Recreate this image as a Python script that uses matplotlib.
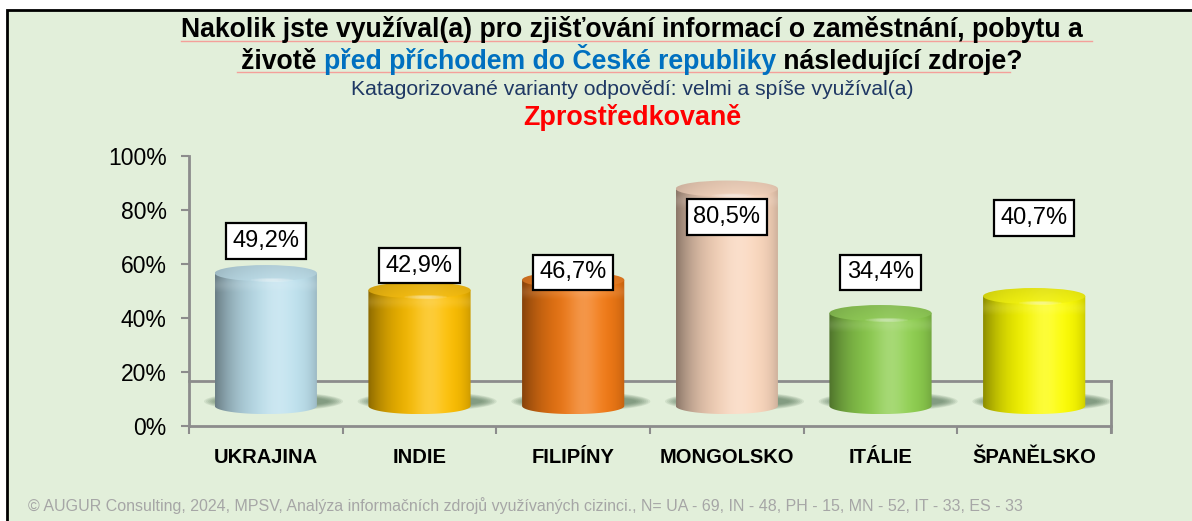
import numpy as np
import matplotlib.pyplot as plt
from matplotlib.patches import Ellipse, Rectangle, PathPatch
from matplotlib.path import Path
from matplotlib.colors import to_rgb
from matplotlib.lines import Line2D

plt.rcParams['font.family'] = ['Liberation Sans', 'DejaVu Sans']

# data
countries = ['UKRAJINA', 'INDIE', 'FILIPÍNY', 'MONGOLSKO', 'ITÁLIE', 'ŠPANĚLSKO']
values = [49.2, 42.9, 46.7, 80.5, 34.4, 40.7]
bar_colors = ['#bfe3f0', '#ffc000', '#f47a14', '#fcd8be', '#8fd14f', '#ffff00']
label_y = [68.4, 59.2, 56.8, 77.3, 56.8, 76.9]   # where the value boxes sit
y_ticks = [0, 20, 40, 60, 80, 100]

W, H = 1192, 521
fig = plt.figure(figsize=(W / 100, H / 100), dpi=100)
fig.patch.set_facecolor('white')

# green panel with black frame (right and bottom edges are cut off)
fig.patches.append(Rectangle((7 / W, -0.02), 1.0, 1 - 10 / H + 0.02, transform=fig.transFigure,
                             fc='#e2efda', ec='black', lw=2, zorder=-5))

ax = fig.add_axes([189 / W, (H - 425.7) / H, (1111 - 189) / W, (425.7 - 155.7) / H])
ax.set_facecolor('none')

axis_col = '#8c8c8c'
base_c = 7.3   # centre of the bottom ellipse
ry = 3.0       # half height of the ellipses
w = 0.665
hw = w / 2


def shade(base, t, contrast=1.0):
    light = np.exp(-((t - 0.6) / 0.16) ** 2) * 0.22 * contrast
    dark = ((1 - t) ** 4 * 0.45 + t ** 10 * 0.2) * contrast
    c = base[None, :] * (1 - dark[:, None])
    c = c + (1 - c) * light[:, None]
    return np.clip(c, 0, 1)


t = np.linspace(0, 1, 200)
for i, v in enumerate(values):
    cx = i
    top_c = base_c + v
    base = np.array(to_rgb(bar_colors[i]))

    # blurred shadow on the floor
    for k in range(8):
        ax.add_patch(Ellipse((cx + 0.05, 9.0), w * (1.36 - k * 0.04), 7.0 - k * 0.5,
                             fc='#58765a', ec='none', alpha=0.13, zorder=2))

    # body of the cylinder
    arc = np.linspace(np.pi, 2 * np.pi, 60)
    verts = [(cx - hw, top_c)] + [(cx + hw * np.cos(a), base_c + ry * np.sin(a)) for a in arc] + \
            [(cx + hw, top_c), (cx - hw, top_c)]
    body = PathPatch(Path(verts), fc='none', ec='none', zorder=3)
    ax.add_patch(body)
    im = ax.imshow(shade(base, t)[None, :, :], extent=[cx - hw, cx + hw, base_c - ry, top_c],
                   aspect='auto', zorder=3, interpolation='bicubic')
    im.set_clip_path(body)

    # soft lighter band where the top edge is rounded
    band = np.linspace(0, 1, 40)
    bimg = np.zeros((40, 200, 4))
    bimg[:, :, :3] = shade(base, t, 0.5)[None, :, :] * 0.5 + 0.5
    bimg[:, :, 3] = (np.sin(band * np.pi) ** 2 * 0.18)[:, None]
    im3 = ax.imshow(bimg, extent=[cx - hw, cx + hw, top_c - 2.6 * ry, top_c - 0.4 * ry],
                    aspect='auto', zorder=3.5, interpolation='bicubic')
    im3.set_clip_path(body)

    # top cap
    cap = Ellipse((cx, top_c), w, 2 * ry, fc='none', ec='none', zorder=4)
    ax.add_patch(cap)
    rows = np.linspace(0, 1, 50)
    capcol = shade(base, t, 0.3)
    cimg = capcol[None, :, :] * (0.9 + 0.08 * rows)[:, None, None]
    cimg = cimg * 0.92 + 0.06
    im2 = ax.imshow(np.clip(cimg, 0, 1), extent=[cx - hw, cx + hw, top_c - ry, top_c + ry],
                    aspect='auto', zorder=4, interpolation='bicubic')
    im2.set_clip_path(cap)
    # shiny spot on the front rim
    for k in range(5):
        ax.add_patch(Ellipse((cx + 0.04, top_c - ry * 0.85), w * (0.42 - k * 0.07), 1.6 - k * 0.25,
                             fc='white', ec='none', alpha=0.12, zorder=4.5))

    # value label
    ax.text(cx, label_y[i], f'{v:.1f}%'.replace('.', ','), ha='center', va='center',
            fontsize=17, zorder=6,
            bbox=dict(boxstyle='square,pad=0.28', fc='white', ec='black', lw=1.6))

ax.set_xlim(-0.5, 5.5)
ax.set_ylim(0, 100)

# floor outline
ax.plot([-0.5, 5.5], [16.6, 16.6], color=axis_col, lw=2, zorder=1, clip_on=False)
ax.plot([5.5, 5.5], [-2.3, 16.6], color=axis_col, lw=2, zorder=1, clip_on=False)

for s in ['top', 'right']:
    ax.spines[s].set_visible(False)
for s in ['left', 'bottom']:
    ax.spines[s].set_color(axis_col)
    ax.spines[s].set_linewidth(2)

ax.set_yticks(y_ticks)
ax.set_yticklabels([f'{y}%' for y in y_ticks], fontsize=16.5)
ax.tick_params(axis='y', length=6, width=1.5, color=axis_col, pad=10)

ax.set_xticks(range(len(countries)))
ax.set_xticklabels(countries, fontsize=14.5, fontweight='bold')
ax.set_xticks(np.arange(-0.5, 6, 1), minor=True)
ax.tick_params(axis='x', which='major', length=0, pad=16)
ax.tick_params(axis='x', which='minor', length=6, width=1.5, color=axis_col)

# titles
xc = 632 / W
fig.text(xc, 1 - 37 / H, 'Nakolik jste využíval(a) pro zjišťování informací o zaměstnání, pobytu a',
         ha='center', va='baseline', fontsize=19.2, fontweight='bold')

fig.canvas.draw()
r = fig.canvas.get_renderer()
parts = [('životě ', 'black'), ('před příchodem do České republiky', '#0070c0'), (' následující zdroje?', 'black')]
texts = []
for s, c in parts:
    texts.append(fig.text(0, 1 - 69 / H, s, ha='left', va='baseline', fontsize=19.2,
                          fontweight='bold', color=c))
widths = [tx.get_window_extent(r).width for tx in texts]
x0 = xc * W - sum(widths) / 2
for tx, wd in zip(texts, widths):
    tx.set_x(x0 / W)
    x0 += wd

fig.text(xc, 1 - 95 / H, 'Katagorizované varianty odpovědí: velmi a spíše využíval(a)',
         ha='center', va='baseline', fontsize=15.2, color='#1f3864')
fig.text(xc, 1 - 125 / H, 'Zprostředkovaně', ha='center', va='baseline', fontsize=19.4,
         fontweight='bold', color='#ff0000')

# spell check lines under the title
fig.lines.append(Line2D([181 / W, 1092 / W], [1 - 41 / H, 1 - 41 / H], transform=fig.transFigure,
                        color='#f4a09a', lw=1))
fig.lines.append(Line2D([237 / W, 1010 / W], [1 - 72 / H, 1 - 72 / H], transform=fig.transFigure,
                        color='#f4a09a', lw=1))

fig.text(28 / W, 1 - 506 / H,
         '© AUGUR Consulting, 2024, MPSV, Analýza informačních zdrojů využívaných cizinci., '
         'N= UA - 69, IN - 48, PH - 15, MN - 52, IT - 33, ES - 33',
         ha='left', va='center', fontsize=11.5, color='#a6a6a6')

fig.savefig('out.png', dpi=100)
